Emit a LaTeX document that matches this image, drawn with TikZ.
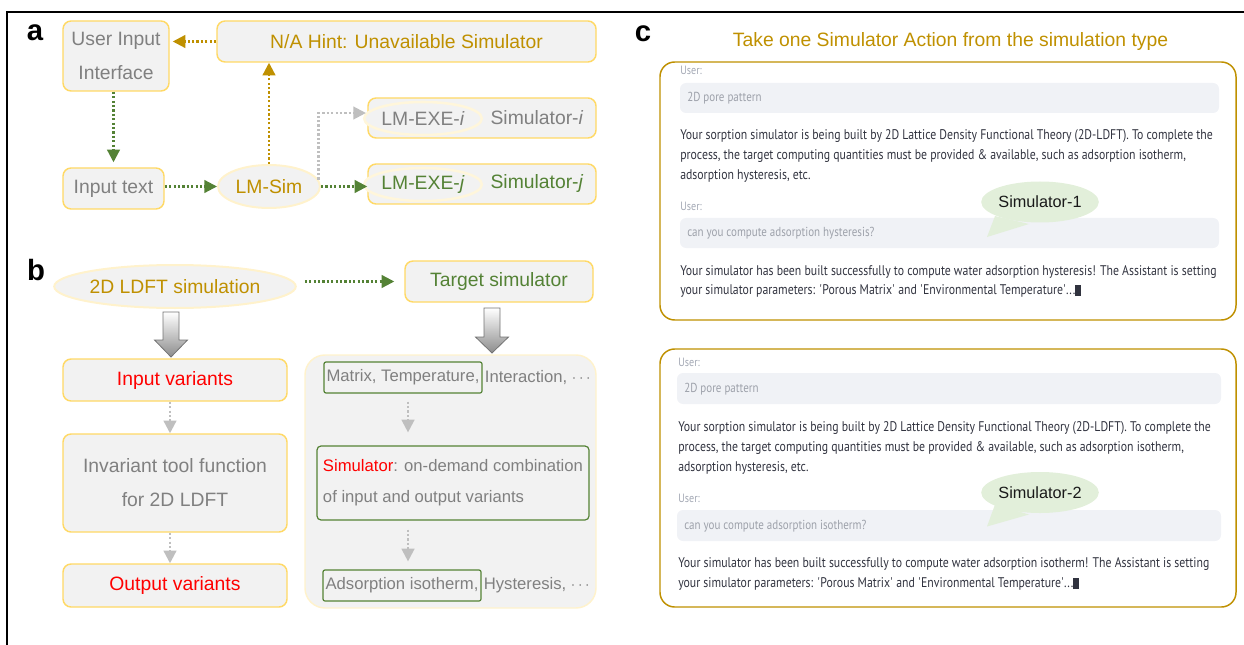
\documentclass[tikz,border=0pt]{standalone}
\usepackage{fontspec}
\setmainfont{Liberation Sans}
\newfontfamily\uifont[FakeStretch=0.842]{PT Sans}
\usetikzlibrary{arrows.meta,shapes.geometric,calc}
\definecolor{boxfill}{HTML}{F2F2F2}
\definecolor{boxedge}{HTML}{FFD966}
\definecolor{paleedge}{HTML}{FFF2CC}
\definecolor{gold}{HTML}{BF9000}
\definecolor{leaf}{HTML}{548235}
\definecolor{txtgray}{HTML}{808080}
\definecolor{arrgray}{HTML}{BFBFBF}
\definecolor{barfill}{HTML}{F0F2F6}
\definecolor{uitext}{HTML}{31333F}
\definecolor{hinttext}{HTML}{A3A8B4}
\definecolor{bartext}{HTML}{9DA1AA}
\definecolor{bubble}{HTML}{E2EFDA}
\begin{document}
\begin{tikzpicture}[x=0.75pt,y=-0.75pt,
  box/.style={rectangle, rounded corners=6pt, draw=boxedge, fill=boxfill,
    line width=1.1pt, inner sep=0pt, font=\fontsize{14.5}{17}\selectfont},
  oval/.style={ellipse, draw=paleedge, fill=boxfill, line width=1.5pt,
    inner sep=0pt, font=\fontsize{14.5}{17}\selectfont},
  inoval/.style={oval, draw=paleedge!70!white, line width=1.9pt},
  flow/.style={line width=1.7pt, dash pattern=on 1.7pt off 1.6pt,
    -{Triangle[length=9.5pt,width=9.5pt]}},
  greenflow/.style={flow, draw=leaf},
  goldflow/.style={flow, draw=gold},
  grayflow/.style={flow, draw=arrgray},
  panel/.style={font=\fontsize{22}{24}\selectfont\bfseries, inner sep=0pt},
  tag/.style={rectangle, draw=leaf, line width=0.9pt, rounded corners=1.5pt,
    inner sep=0pt, text=txtgray, font=\fontsize{12.5}{15}\selectfont},
  tagrest/.style={anchor=west, inner sep=1.5pt, text=txtgray,
    font=\fontsize{12.5}{15}\selectfont},
  bigarrow/.style={top color=white, bottom color=black!45, draw=black!55,
    line width=0.6pt},
  card/.style={draw=gold, line width=1.1pt, rounded corners=11pt},
  bar/.style={fill=barfill, rounded corners=4.5pt},
  ulab/.style={anchor=base west, inner sep=0pt, text=hinttext,
    font=\uifont\fontsize{9}{10}\selectfont},
  btext/.style={anchor=base west, inner sep=0pt, text=bartext,
    font=\uifont\fontsize{9.8}{11}\selectfont},
  para/.style={anchor=base west, inner sep=0pt, text=uitext,
    font=\uifont\fontsize{10.5}{12}\selectfont},
  bub/.style={ellipse, fill=bubble, minimum width=75pt, minimum height=30.75pt,
    inner sep=0pt, text=black!90, font=\fontsize{12.2}{14}\selectfont}
]
\useasboundingbox (0,0) rectangle (1244,645);
% frame
\draw[line width=1.4pt] (7,645) -- (7,12) -- (1244,12);

% ---------------- panel a ----------------
\node[panel] (la) at (35,33) {a};
\node[box, minimum width=79.5pt, minimum height=52.5pt, align=center, text=txtgray,
  font=\fontsize{14.5}{26}\selectfont] (uii) at (116,56) {User Input\\Interface};
\node[box, minimum width=284.25pt, minimum height=30.75pt, text=gold] (hint) at (406.5,41.5)
  {N/A Hint: Unavailable Simulator};
\node[box, minimum width=75.75pt, minimum height=30.75pt, text=txtgray] (intext) at (113.5,188.5)
  {Input text};
\node[oval, minimum width=76.5pt, minimum height=32.25pt, text=gold] (lmsim) at (269,186.5) {LM-Sim};
\node[box, minimum width=171pt, minimum height=30pt] (simi) at (482,118) {};
\node[inoval, minimum width=72pt, minimum height=24.75pt, text=txtgray] (exei) at (423,118.5)
  {LM-EXE-\textit{i}};
\node[text=txtgray, font=\fontsize{14.5}{17}\selectfont, inner sep=0pt] (similab) at (537,118)
  {Simulator-\textit{i}};
\node[box, minimum width=171pt, minimum height=30pt] (simj) at (482,184) {};
\node[inoval, minimum width=72pt, minimum height=24.75pt, text=leaf] (exej) at (423,184.5)
  {LM-EXE-\textit{j}};
\node[text=leaf, font=\fontsize{14.5}{17}\selectfont, inner sep=0pt] (simjlab) at (537,184)
  {Simulator-\textit{j}};

\draw[goldflow, shorten >=2.25pt] (hint.west) -- (hint.west -| uii.east);
\draw[greenflow, shorten >=3.75pt] (uii.south -| intext.north) -- (intext.north);
\draw[greenflow] (intext.east |- lmsim.west) -- (lmsim.west);
\draw[goldflow] (lmsim.north) -- (lmsim.north |- hint.south);
\draw[greenflow] (lmsim.east) -- (lmsim.east -| simj.west);
\draw[grayflow, shorten >=1pt] (lmsim.8) |- ($(simi.west)+(0,-5)$);

% ---------------- panel b ----------------
\node[panel] (lb) at (36,270) {b};
\node[oval, minimum width=168pt, minimum height=32.25pt, text=gold] (ldft) at (175,286.5)
  {2D LDFT simulation};
\node[box, minimum width=141pt, minimum height=30.75pt, text=leaf] (target) at (499,281.5)
  {Target simulator};
\draw[greenflow, shorten <=6pt, shorten >=7.5pt] (ldft.east |- target.west) -- (target.west);

\node[box, minimum width=168pt, minimum height=31.5pt, text=red] (inpv) at (175,380)
  {Input variants};
\node[box, minimum width=168pt, minimum height=73.5pt, align=center, text=txtgray,
  font=\fontsize{14.5}{25.5}\selectfont] (inv) at (175,483)
  {Invariant tool function\\for 2D LDFT};
\node[box, minimum width=168pt, minimum height=32.25pt, text=red] (outv) at (175,585.5)
  {Output variants};
\draw[grayflow] ($(inpv.south)+(-5,0)$) -- ($(inv.north)+(-5,0)$);
\draw[grayflow] ($(inv.south)+(-5,0)$) -- ($(outv.north)+(-5,0)$);

% hollow arrows from the two heads of panel b
\shade[bigarrow] (163,312) -- (179,312) -- (179,340) -- (187.5,340) -- (171,357)
  -- (154.5,340) -- (163,340) -- cycle;
\shade[bigarrow] (484,308) -- (500,308) -- (500,337) -- (508.5,337) -- (492,353)
  -- (475.5,337) -- (484,337) -- cycle;

\node[rectangle, rounded corners=15pt, draw=paleedge, fill=boxfill, line width=1.1pt,
  minimum width=218.25pt, minimum height=189.75pt] (cont) at (450.5,481.5) {};
\node[tag, minimum width=118.5pt, minimum height=23.25pt] (m1) at (403,377.5)
  {Matrix, Temperature,};
\node[tagrest] (m1rest) at (m1.east) {Interaction, $\cdots$};
\node[rectangle, draw=leaf, line width=0.9pt, rounded corners=3pt, minimum width=204pt,
  minimum height=55.5pt, align=left, text=txtgray, inner sep=0pt,
  font=\fontsize{12.5}{23.25}\selectfont] (simb) at (453,483)
  {\textcolor{red}{Simulator}: on-demand combination\\of input and output variants};
\node[tag, minimum width=118.5pt, minimum height=23.25pt] (m3) at (402,585.5)
  {Adsorption isotherm,};
\node[tagrest] (m3rest) at (m3.east) {Hysteresis, $\cdots$};
\coordinate (rcol) at ($(m1.south)+(5,0)$);
\draw[grayflow, shorten <=6pt, shorten >=9.75pt] (rcol) -- (rcol |- simb.north);
\draw[grayflow, shorten <=6.75pt, shorten >=6pt] (rcol |- simb.south) -- (rcol |- m3.north);

% ---------------- panel c ----------------
\node[panel] (lc) at (643,34) {c};
\node[text=gold, font=\fontsize{14.5}{17}\selectfont, inner sep=0pt] (title) at (950.5,42)
  {Take one Simulator Action from the simulation type};

% first chat card
\draw[card] (660,62) rectangle (1236,320);
\node[ulab] (u1a) at (680,75) {User:};
\fill[bar] (680,83) rectangle (1219,113);
\node[btext] (q1a) at (687,101.5) {2D pore pattern};
\node[para] (p1a) at (680,139.5) {Your sorption simulator is being built by 2D Lattice Density Functional Theory (2D-LDFT). To complete the};
\node[para] (p1b) at (680,159.5) {process, the target computing quantities must be provided \& available, such as adsorption isotherm,};
\node[para] (p1c) at (680,179.5) {adsorption hysteresis, etc.};
\node[ulab] (u1b) at (680,210) {User:};
\fill[bar] (680,218) rectangle (1219,248);
\node[btext] (q1b) at (687,236.5) {can you compute adsorption hysteresis?};
\node[bub] (bub1) at (1040,202) {Simulator-1};
\fill[bubble] ($(bub1.center)+(-45,14)$) -- ($(bub1.center)+(-11,22)$) -- ($(bub1.center)+(-53,35)$) -- cycle;
\node[para] (p1d) at (680,275.5) {Your simulator has been built successfully to compute water adsorption hysteresis! The Assistant is setting};
\node[para] (p1e) at (680,294.5) {your simulator parameters: \textquotesingle Porous Matrix\textquotesingle\ and \textquotesingle Environmental Temperature\textquotesingle...\rule[-1.2pt]{4.5pt}{8.7pt}};

% second chat card
\draw[card] (660,349) rectangle (1236,607);
\node[ulab] (u2a) at (678,366) {User:};
\fill[bar] (677,373) rectangle (1221,404);
\node[btext] (q2a) at (684,392.5) {2D pore pattern};
\node[para] (p2a) at (678,431.5) {Your sorption simulator is being built by 2D Lattice Density Functional Theory (2D-LDFT). To complete the};
\node[para] (p2b) at (678,451.5) {process, the target computing quantities must be provided \& available, such as adsorption isotherm,};
\node[para] (p2c) at (678,471.5) {adsorption hysteresis, etc.};
\node[ulab] (u2b) at (678,502) {User:};
\fill[bar] (677,510) rectangle (1221,541);
\node[btext] (q2b) at (684,529.5) {can you compute adsorption isotherm?};
\node[bub] (bub2) at (1040,492.5) {Simulator-2};
\fill[bubble] ($(bub2.center)+(-45,12)$) -- ($(bub2.center)+(-11,22)$) -- ($(bub2.center)+(-53,34)$) -- cycle;
\node[para] (p2d) at (678,567.5) {Your simulator has been built successfully to compute water adsorption isotherm! The Assistant is setting};
\node[para] (p2e) at (678,587.5) {your simulator parameters: \textquotesingle Porous Matrix\textquotesingle\ and \textquotesingle Environmental Temperature\textquotesingle...\rule[-1.2pt]{4.5pt}{8.7pt}};
\end{tikzpicture}
\end{document}
